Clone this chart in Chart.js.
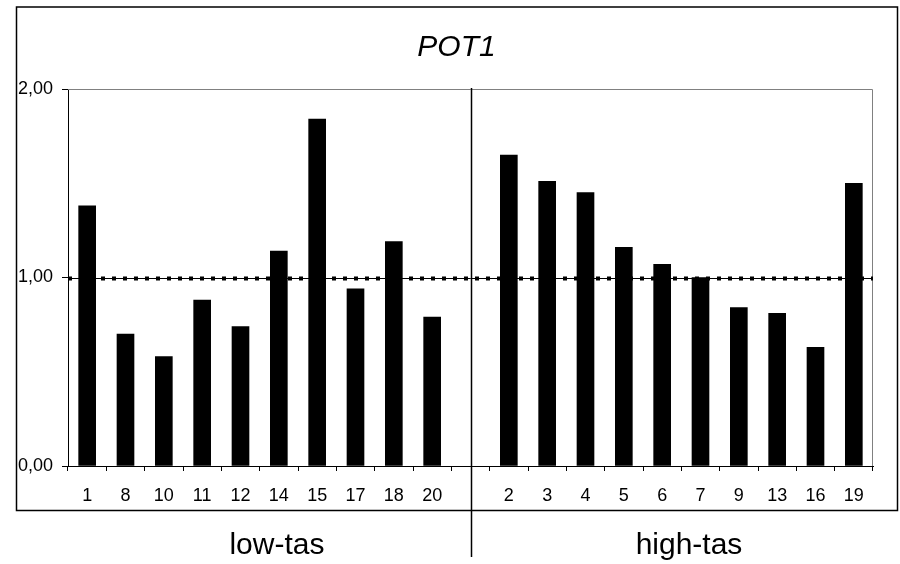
<!DOCTYPE html>
<html>
<head>
<meta charset="utf-8">
<script src="https://cdn.jsdelivr.net/npm/chart.js@4"></script>
<style>
  body { margin: 0; background: #fff; }
  #wrap { width: 900px; height: 564px; }
</style>
</head>
<body>
<div id="wrap"><canvas id="potChart"></canvas></div>
<script>
const chartTitle = "POT1";
const lowLabels = ["1", "8", "10", "11", "12", "14", "15", "17", "18", "20"];
const lowValues = [1.38, 0.70, 0.58, 0.88, 0.74, 1.14, 1.84, 0.94, 1.19, 0.79];
const highLabels = ["2", "3", "4", "5", "6", "7", "9", "13", "16", "19"];
const highValues = [1.65, 1.51, 1.45, 1.16, 1.07, 1.00, 0.84, 0.81, 0.63, 1.50];
const groupNames = ["low-tas", "high-tas"];
const refValue = 1;
const yTicks = [0, 1, 2];

// empty slot between the two groups holds the divider
const labels = [...lowLabels, "", ...highLabels];
const values = [...lowValues, null, ...highValues];
const splitIndex = lowLabels.length;

const fontName = "'Liberation Sans', Arial, sans-serif";

const extras = {
  id: "extras",
  beforeDatasetsDraw(chart) {
    const ctx = chart.ctx;
    const a = chart.chartArea;
    ctx.save();
    // gray frame on top and right of the plot
    ctx.strokeStyle = "#808080";
    ctx.lineWidth = 1;
    ctx.beginPath();
    ctx.moveTo(a.left, a.top + 0.5);
    ctx.lineTo(a.right - 0.5, a.top + 0.5);
    ctx.lineTo(a.right - 0.5, a.bottom);
    ctx.stroke();
    ctx.restore();
  },
  afterDraw(chart) {
    const ctx = chart.ctx;
    const a = chart.chartArea;
    const x = chart.scales.x;
    const y = chart.scales.y;
    ctx.save();

    // outer box
    ctx.strokeStyle = "#000";
    ctx.lineWidth = 1.5;
    ctx.strokeRect(16.5, 7, 881, 503.5);

    // reference line at 1,00: thin line plus square dots
    const yRef = Math.round(y.getPixelForValue(refValue));
    ctx.lineWidth = 1;
    ctx.beginPath();
    ctx.moveTo(a.left, yRef + 0.5);
    ctx.lineTo(a.right, yRef + 0.5);
    ctx.stroke();
    ctx.lineWidth = 4;
    ctx.setLineDash([4, 7]);
    ctx.beginPath();
    ctx.moveTo(Math.round(a.left), yRef + 0.5);
    ctx.lineTo(a.right, yRef + 0.5);
    ctx.stroke();
    ctx.setLineDash([]);

    // divider between groups
    const xDiv = Math.round(x.getPixelForValue(splitIndex)) + 0.5;
    ctx.lineWidth = 1.5;
    ctx.beginPath();
    ctx.moveTo(xDiv, a.top - 1);
    ctx.lineTo(xDiv, 557);
    ctx.stroke();

    // title and group names
    ctx.fillStyle = "#000";
    ctx.textAlign = "center";
    ctx.textBaseline = "alphabetic";
    ctx.font = "italic 30px " + fontName;
    ctx.fillText(chartTitle, 456.5, 56);
    ctx.font = "30px " + fontName;
    ctx.fillText(groupNames[0], x.getPixelForValue(4.95), 554);
    ctx.fillText(groupNames[1], x.getPixelForValue(15.7), 554);
    ctx.restore();
  }
};

new Chart(document.getElementById("potChart"), {
  type: "bar",
  data: {
    labels: labels,
    datasets: [{
      data: values,
      backgroundColor: "#000",
      borderWidth: 0,
      barThickness: 17
    }]
  },
  options: {
    responsive: true,
    maintainAspectRatio: false,
    animation: false,
    layout: { padding: { left: 0, top: 89, right: 27, bottom: 54 } },
    plugins: {
      legend: { display: false },
      tooltip: { enabled: false }
    },
    scales: {
      x: {
        offset: true,
        grid: { offset: true, drawOnChartArea: false, drawTicks: true, tickLength: 5, color: "#000" },
        border: { display: true, color: "#000", width: 1 },
        ticks: { color: "#000", font: { family: fontName, size: 18 }, padding: 14, maxRotation: 0, autoSkip: false },
        afterFit(scale) { scale.height = 44; }
      },
      y: {
        min: 0,
        max: 2,
        afterBuildTicks(scale) { scale.ticks = yTicks.map(v => ({ value: v })); },
        grid: { drawOnChartArea: false, drawTicks: true, tickLength: 6, color: "#000" },
        border: { display: true, color: "#000", width: 1 },
        ticks: {
          color: "#000",
          font: { family: fontName, size: 18 },
          padding: 9,
          callback: v => v.toFixed(2).replace(".", ",")
        },
        afterFit(scale) { scale.width = 68; }
      }
    }
  },
  plugins: [extras]
});
</script>
</body>
</html>
